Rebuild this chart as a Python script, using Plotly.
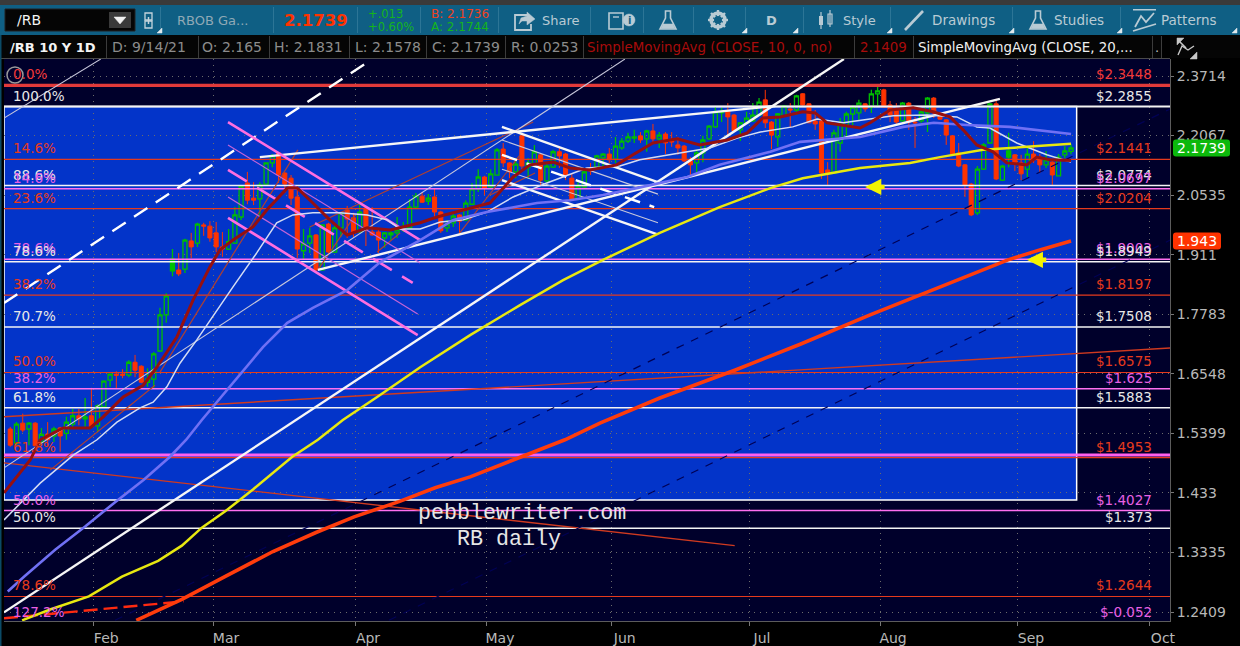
import math

import plotly.graph_objects as go

# daily bars of /RB (bar number 1..171 on the axis)
opens = [1.548, 1.522, 1.559, 1.548, 1.559, 1.524, 1.538, 1.535, 1.550, 1.540,
         1.557, 1.573, 1.567, 1.573, 1.554, 1.590, 1.642, 1.654, 1.654, 1.652,
         1.678, 1.670, 1.638, 1.644, 1.701, 1.777, 1.874, 1.876, 1.878, 1.943,
         1.938, 1.981, 1.978, 1.962, 1.929, 1.924, 1.938, 2.000, 2.084, 2.046,
         2.044, 2.081, 2.135, 2.161, 2.109, 2.096, 2.049, 1.920, 1.938, 1.957,
         1.876, 1.983, 1.917, 1.974, 2.017, 1.998, 1.964, 2.022, 1.964, 1.964,
         1.950, 1.957, 1.962, 1.969, 1.974, 2.024, 2.051, 2.039, 2.049, 2.012,
         1.974, 1.986, 2.005, 1.993, 2.031, 2.069, 2.099, 2.074, 2.104, 2.171,
         2.135, 2.112, 2.206, 2.124, 2.132, 2.156, 2.089, 2.124, 2.164, 2.158,
         2.096, 2.044, 2.074, 2.122, 2.124, 2.148, 2.158, 2.145, 2.174, 2.192,
         2.200, 2.206, 2.198, 2.219, 2.198, 2.211, 2.192, 2.182, 2.179, 2.140,
         2.135, 2.161, 2.198, 2.230, 2.268, 2.273, 2.262, 2.222, 2.241, 2.246,
         2.262, 2.304, 2.243, 2.203, 2.260, 2.279, 2.276, 2.321, 2.293, 2.246,
         2.246, 2.117, 2.109, 2.187, 2.235, 2.265, 2.268, 2.293, 2.284, 2.321,
         2.332, 2.290, 2.279, 2.246, 2.295, 2.243, 2.246, 2.268, 2.309, 2.260,
         2.249, 2.206, 2.161, 2.130, 2.081, 2.010, 2.119, 2.187, 2.293, 2.091,
         2.150, 2.156, 2.135, 2.119, 2.158, 2.150, 2.130, 2.137, 2.102, 2.156,
         2.165]
highs = [1.552, 1.561, 1.577, 1.561, 1.561, 1.550, 1.561, 1.552, 1.552, 1.571,
         1.586, 1.586, 1.607, 1.627, 1.595, 1.642, 1.656, 1.660, 1.664, 1.682,
         1.693, 1.672, 1.666, 1.699, 1.792, 1.824, 1.924, 1.915, 1.948, 1.962,
         1.986, 1.986, 1.990, 1.988, 1.964, 1.971, 2.024, 2.079, 2.112, 2.086,
         2.086, 2.137, 2.158, 2.164, 2.112, 2.104, 2.066, 1.971, 1.974, 1.959,
         1.981, 1.986, 1.981, 2.012, 2.027, 2.010, 2.031, 2.024, 2.024, 1.974,
         1.964, 1.969, 2.000, 1.988, 2.044, 2.059, 2.061, 2.056, 2.071, 2.015,
         1.993, 2.012, 2.007, 2.041, 2.084, 2.119, 2.102, 2.119, 2.174, 2.187,
         2.137, 2.148, 2.208, 2.148, 2.182, 2.158, 2.137, 2.169, 2.174, 2.161,
         2.109, 2.086, 2.122, 2.135, 2.156, 2.161, 2.174, 2.203, 2.200, 2.214,
         2.222, 2.216, 2.222, 2.238, 2.216, 2.216, 2.216, 2.203, 2.182, 2.150,
         2.169, 2.206, 2.235, 2.284, 2.282, 2.295, 2.265, 2.243, 2.271, 2.295,
         2.309, 2.332, 2.246, 2.268, 2.290, 2.295, 2.318, 2.323, 2.295, 2.276,
         2.249, 2.137, 2.222, 2.254, 2.271, 2.290, 2.304, 2.295, 2.332, 2.343,
         2.335, 2.301, 2.295, 2.298, 2.298, 2.257, 2.276, 2.312, 2.312, 2.271,
         2.251, 2.208, 2.187, 2.132, 2.084, 2.127, 2.187, 2.295, 2.307, 2.130,
         2.214, 2.158, 2.156, 2.174, 2.192, 2.158, 2.166, 2.140, 2.158, 2.179,
         2.1831]
lows = [1.515, 1.518, 1.542, 1.518, 1.515, 1.518, 1.515, 1.524, 1.506, 1.528,
        1.552, 1.555, 1.552, 1.550, 1.542, 1.588, 1.629, 1.625, 1.646, 1.648,
        1.648, 1.636, 1.629, 1.627, 1.699, 1.760, 1.862, 1.862, 1.869, 1.903,
        1.929, 1.955, 1.941, 1.917, 1.906, 1.922, 1.936, 1.993, 2.031, 2.029,
        2.000, 2.079, 2.124, 2.084, 2.059, 2.029, 1.903, 1.899, 1.915, 1.874,
        1.874, 1.915, 1.915, 1.952, 1.950, 1.952, 1.962, 1.931, 1.955, 1.915,
        1.927, 1.945, 1.950, 1.964, 1.974, 2.019, 2.034, 2.029, 2.000, 1.962,
        1.964, 1.976, 1.957, 1.990, 2.029, 2.061, 2.054, 2.071, 2.102, 2.124,
        2.096, 2.096, 2.112, 2.096, 2.124, 2.079, 2.084, 2.122, 2.122, 2.091,
        2.039, 2.041, 2.071, 2.104, 2.122, 2.124, 2.135, 2.135, 2.169, 2.187,
        2.187, 2.187, 2.164, 2.187, 2.174, 2.158, 2.177, 2.156, 2.137, 2.104,
        2.112, 2.137, 2.195, 2.227, 2.243, 2.203, 2.216, 2.192, 2.238, 2.243,
        2.260, 2.227, 2.171, 2.177, 2.257, 2.230, 2.262, 2.287, 2.241, 2.222,
        2.094, 2.079, 2.107, 2.164, 2.203, 2.235, 2.249, 2.271, 2.268, 2.284,
        2.282, 2.243, 2.235, 2.243, 2.222, 2.174, 2.241, 2.216, 2.254, 2.249,
        2.182, 2.156, 2.124, 2.049, 2.002, 2.005, 2.117, 2.185, 2.091, 2.089,
        2.124, 2.114, 2.091, 2.099, 2.135, 2.109, 2.122, 2.079, 2.102, 2.148,
        2.1578]
closes = [1.518, 1.557, 1.546, 1.559, 1.517, 1.538, 1.528, 1.548, 1.535, 1.561,
          1.573, 1.567, 1.571, 1.552, 1.592, 1.640, 1.654, 1.652, 1.652, 1.678,
          1.662, 1.638, 1.644, 1.695, 1.777, 1.818, 1.901, 1.867, 1.945, 1.929,
          1.983, 1.978, 1.950, 1.929, 1.924, 1.941, 2.005, 2.076, 2.041, 2.041,
          2.079, 2.135, 2.153, 2.104, 2.081, 2.046, 1.924, 1.936, 1.955, 1.876,
          1.981, 1.917, 1.974, 2.010, 1.995, 1.964, 2.012, 1.969, 1.957, 1.945,
          1.962, 1.962, 1.969, 1.971, 2.024, 2.051, 2.036, 2.046, 2.012, 1.967,
          1.983, 2.002, 1.990, 2.034, 2.069, 2.099, 2.071, 2.107, 2.169, 2.135,
          2.112, 2.132, 2.127, 2.135, 2.164, 2.091, 2.127, 2.164, 2.153, 2.104,
          2.041, 2.076, 2.112, 2.114, 2.153, 2.158, 2.143, 2.179, 2.192, 2.203,
          2.203, 2.195, 2.219, 2.198, 2.208, 2.187, 2.190, 2.174, 2.140, 2.130,
          2.161, 2.195, 2.232, 2.271, 2.271, 2.257, 2.219, 2.241, 2.254, 2.262,
          2.298, 2.241, 2.208, 2.265, 2.287, 2.276, 2.315, 2.290, 2.241, 2.238,
          2.109, 2.107, 2.214, 2.238, 2.265, 2.284, 2.295, 2.279, 2.321, 2.329,
          2.284, 2.262, 2.243, 2.295, 2.243, 2.241, 2.271, 2.309, 2.268, 2.251,
          2.208, 2.158, 2.127, 2.079, 2.005, 2.119, 2.182, 2.293, 2.094, 2.127,
          2.166, 2.135, 2.107, 2.158, 2.143, 2.130, 2.143, 2.104, 2.150, 2.166,
          2.1739]
solid_up_bars = [27, 161]

# moving averages: bar number, value
sma10_x = [0, 4.2, 5.8, 9.5, 13.8, 15.9, 19.1, 22.3, 24.5, 27.7, 30.3, 33, 34.6, 36.7,
           39.9, 42.1, 45.4, 47, 49.5, 52.2, 55, 58.2, 61.9, 66.7, 69.4, 73.6, 77.9,
           81.6, 84.3, 88, 90.7, 93.9, 98.2, 100.8, 104, 107.9, 111.5, 115.9, 119.1,
           121.6, 124.4, 128, 130, 131.9, 137.2, 138.8, 142, 145.7, 148.9, 151.6,
           153.7, 155.9, 158.5, 160.7, 163.9, 165.5, 167.6, 171]
sma10_y = [1.433, 1.491, 1.528, 1.550, 1.550, 1.571, 1.609, 1.632, 1.668, 1.730, 1.809,
           1.883, 1.922, 1.945, 1.976, 2.017, 2.071, 2.071, 2.034, 1.993, 1.957, 1.974,
           1.969, 1.986, 2.000, 2.017, 2.034, 2.099, 2.130, 2.137, 2.122, 2.117, 2.130,
           2.156, 2.187, 2.198, 2.182, 2.195, 2.214, 2.254, 2.257, 2.271, 2.268, 2.241,
           2.227, 2.241, 2.276, 2.282, 2.271, 2.257, 2.222, 2.182, 2.164, 2.135, 2.130,
           2.150, 2.143, 2.141]
sma20_x = [0, 3.2, 5.8, 11.1, 14.9, 18.1, 21.8, 23.9, 26.1, 28.2, 30.9, 36.7, 40.5, 43.7,
           46.3, 49.5, 53.8, 58.2, 61.4, 63.5, 66.7, 69.9, 73.6, 77.4, 81.6, 87, 93.4,
           98.7, 101.9, 108.3, 113.1, 117.5, 121.2, 126.4, 130.3, 134.5, 138.8, 142.5,
           147.9, 152.7, 155.9, 158, 162.3, 167.1, 171]
sma20_y = [1.387, 1.421, 1.450, 1.500, 1.528, 1.561, 1.588, 1.599, 1.629, 1.676, 1.724,
           1.838, 1.915, 1.986, 2.005, 2.010, 2.010, 2.005, 1.993, 1.971, 1.971, 1.988,
           1.993, 2.012, 2.049, 2.084, 2.122, 2.127, 2.143, 2.161, 2.174, 2.200, 2.216,
           2.230, 2.251, 2.241, 2.251, 2.260, 2.262, 2.257, 2.230, 2.227, 2.187, 2.156,
           2.137]
sma50_x = [0.6, 3.2, 8.2, 13, 17.8, 22.4, 26.6, 29.2, 31.7, 36.7, 41.5, 45.4, 49.5, 55,
           60.3, 66.7, 72, 77.4, 85.4, 90.7, 96, 101.4, 109.5, 114.7, 122.8, 127.6,
           137.2, 144.1, 149, 154.3, 161.2, 171]
sma50_y = [1.272, 1.295, 1.338, 1.376, 1.417, 1.456, 1.497, 1.528, 1.565, 1.636, 1.709,
           1.760, 1.792, 1.831, 1.894, 1.945, 1.993, 2.012, 2.034, 2.041, 2.054, 2.071,
           2.099, 2.130, 2.164, 2.190, 2.203, 2.230, 2.241, 2.235, 2.230, 2.211]
sma100_x = [2.9, 7.5, 13.6, 18.9, 24.7, 28.5, 31.7, 35.4, 39.9, 43.7, 46.2, 50.3, 54.3,
            59.8, 66.7, 74.7, 82.7, 89.6, 96, 105.1, 114.7, 122.8, 128, 137.2, 145.2,
            150, 156.9, 163.9, 171]
sma100_y = [1.2285, 1.245, 1.2645, 1.295, 1.320, 1.3445, 1.374, 1.401, 1.439, 1.473,
            1.497, 1.528, 1.565, 1.609, 1.668, 1.734, 1.798, 1.853, 1.899, 1.962, 2.024,
            2.071, 2.096, 2.122, 2.135, 2.150, 2.169, 2.177, 2.185]
sma200_x = [21.2, 28.5, 35.4, 43.1, 50, 56.1, 63.3, 69.1, 74.7, 83, 89.9, 95.5, 105.1,
            117.1, 127.6, 138.8, 148.4, 152.7, 160.9, 166, 171]
sma200_y = [1.2285, 1.260, 1.295, 1.335, 1.366, 1.392, 1.418, 1.442, 1.461, 1.497, 1.528,
            1.559, 1.607, 1.662, 1.715, 1.777, 1.829, 1.853, 1.899, 1.922, 1.943]

# horizontal fibonacci levels
fib_prices = [2.3448, 2.2855, 2.1441, 2.0774, 2.0697, 2.0204, 1.9003, 1.8949, 1.8197,
              1.7508, 1.6575, 1.625, 1.5883, 1.5001, 1.4953, 1.4027, 1.373, 1.2644]
fib_left = ["0.0%", "100.0%", "14.6%", "88.6%", "14.6%", "23.6%", "78.6%", "78.6%", "38.2%",
            "70.7%", "50.0%", "38.2%", "61.8%", "", "61.8%", "50.0%", "50.0%", "78.6%"]
fib_right = ["$2.3448", "$2.2855", "$2.1441", "$2.0774", "$2.0697", "$2.0204", "$1.9003",
             "$1.8949", "$1.8197", "$1.7508", "$1.6575", "$1.625", "$1.5883", "", "$1.4953",
             "$1.4027", "$1.373", "$1.2644"]
fib_kinds = ["top", "white2", "red", "white", "pink", "red", "pink", "white", "red",
             "white", "red", "pink", "white", "pink3", "red", "pink", "white", "red"]

# drawn trend lines: bar, price, bar, price
white_thick = [(0, 1.2404, 134.6, 2.4204), (50.3, 1.876, 159.6, 2.307), (41, 2.150, 123.6, 2.287),
               (79.8, 2.230, 105.1, 2.084), (79.8, 2.091, 104.6, 1.959)]
white_thin = [(0, 2.254, 15.5, 2.4204), (0, 1.477, 99.5, 2.4204),
              (79.8, 2.195, 104.8, 2.056), (79.8, 2.119, 104.8, 1.986)]
white_dashed = [(0, 1.8025, 59, 2.4204), (79.8, 2.156, 104.2, 2.024)]
pink_thick = [(35.9, 2.243, 66.7, 1.945), (35.9, 1.998, 66.3, 1.734)]
pink_thin = [(35.9, 2.182, 66.7, 1.892), (35.9, 2.049, 66.3, 1.7787)]
pink_dashed = [(35.9, 2.117, 65.5, 1.847)]
brown_thin = [(7.4, 1.473, 24.2, 1.632), (25, 1.658, 47.1, 2.169), (49, 1.976, 84.8, 2.243),
              (72.8, 1.957, 82.7, 2.156), (77.9, 2.054, 85.1, 2.109), (59.8, 1.917, 63.5, 1.962),
              (50.3, 1.876, 56.3, 2.005)]
red_thin = [(0, 1.571, 186.9, 1.7071), (0, 1.486, 117.1, 1.3445)]
red_dashed = [(0, 1.2315, 28.8, 1.257)]
navy_dashed = [(17.8, 1.2285, 186.9, 2.279), (61.7, 1.2285, 186.9, 1.945)]

# axes
month_bars = [14.3, 33.5, 56.25, 77.4, 97.4, 119.4, 140.4, 162.5, 183.65]
month_labels = ["Feb", "Mar", "Apr", "May", "Jun", "Jul", "Aug", "Sep", "Oct"]
price_ticks = [2.3714, 2.2067, 2.0535, 1.911, 1.7783, 1.6548, 1.5399, 1.433, 1.3335, 1.2409]
price_labels = ["2.3714", "2.2067", "2.0535", "1.911", "1.7783", "1.6548", "1.5399", "1.433",
                "1.3335", "1.2409"]

FONT = "DejaVu Sans"
BLUE = "#0334c9"
NAVY = "#00002b"
TEAL = "#0f5f84"
GREEN = "#00bf00"
ORANGE = "#ff3300"
RED = "#e63a1c"
PINK = "#e860e4"
GREY = "#b8b8b8"
BAR_COLOR = "#b9cbd4"

# plot area in the window, in pixels
W, H = 1240, 646
LEFT, RIGHT, TOP, BOTTOM = 4, 1170, 59, 621
X_RANGE = [0, 186.86]
Y_RANGE = [0.08902, 0.38393]


def px(x):
    return (x - LEFT) / (RIGHT - LEFT)


def py(y):
    return (BOTTOM - y) / (BOTTOM - TOP)


def price_py(price):
    return (math.log10(price) - Y_RANGE[0]) / (Y_RANGE[1] - Y_RANGE[0])


def path(points, close=False):
    d = "M" + " L".join(f"{px(x):.5f},{py(y):.5f}" for x, y in points)
    return d + (" Z" if close else "")


fig = go.Figure()
shapes = []
notes = []


def chrome_rect(x0, y0, x1, y1, fill, line=None, width=0):
    shapes.append(dict(type="rect", xref="paper", yref="paper", layer="above",
                       x0=px(x0), x1=px(x1), y0=py(y0), y1=py(y1), fillcolor=fill,
                       line=dict(color=line or fill, width=width)))


def chrome_path(points, color, width=1.5, fill=None, close=False):
    shapes.append(dict(type="path", xref="paper", yref="paper", layer="above",
                       path=path(points, close), fillcolor=fill or "rgba(0,0,0,0)",
                       line=dict(color=color, width=width)))


def chrome_circle(x0, y0, x1, y1, color, width=1.5, fill=None):
    shapes.append(dict(type="circle", xref="paper", yref="paper", layer="above",
                       x0=px(x0), x1=px(x1), y0=py(y0), y1=py(y1),
                       fillcolor=fill or "rgba(0,0,0,0)", line=dict(color=color, width=width)))


def text(x, y, s, color, size=13, anchor="left", bold=False, family=FONT):
    notes.append(dict(xref="paper", yref="paper", x=px(x), y=py(y), text=f"<b>{s}</b>" if bold else s,
                      showarrow=False, xanchor=anchor, yanchor="middle", borderpad=0,
                      font=dict(family=family, size=size, color=color)))


def segments(lines, color, width, dash="solid"):
    for x0, y0, x1, y1 in lines:
        fig.add_trace(go.Scatter(x=[x0, x1], y=[y0, y1], mode="lines", hoverinfo="skip",
                                 line=dict(color=color, width=width, dash=dash)))


# candles, hollow when up and solid when down
bars = list(range(1, len(opens) + 1))
hollow = [i for i, b in enumerate(bars) if b not in solid_up_bars]
solid = [i for i, b in enumerate(bars) if b in solid_up_bars]


def candles(idx, up_fill):
    return go.Candlestick(x=[bars[i] for i in idx], open=[opens[i] for i in idx],
                          high=[highs[i] for i in idx], low=[lows[i] for i in idx],
                          close=[closes[i] for i in idx], hoverinfo="skip", whiskerwidth=0,
                          increasing=dict(line=dict(color=GREEN, width=1.3), fillcolor=up_fill),
                          decreasing=dict(line=dict(color=ORANGE, width=1), fillcolor=ORANGE))


fig.add_trace(candles(hollow, "rgba(0,0,0,0)"))
fig.add_trace(candles(solid, GREEN))

# fib lines and their labels on both sides
fib_style = {"top": ("#e23a3a", 3.2, "#f03838"), "white2": ("#f4f4f4", 2, "#e8e8e8"),
             "white": ("#f4f4f4", 1.5, "#e8e8e8"), "red": (RED, 1.1, RED),
             "pink": ("#ff70f0", 1.5, PINK), "pink3": ("#ff60ee", 3, PINK)}
for price, left, right, kind in zip(fib_prices, fib_left, fib_right, fib_kinds):
    color, width, label = fib_style[kind]
    fig.add_trace(go.Scatter(x=X_RANGE, y=[price, price], mode="lines", hoverinfo="skip",
                             line=dict(color=color, width=width)))
    for s, x, anchor in ((left, 12, "left"), (right, 1153, "right")):
        if s:
            notes.append(dict(xref="paper", yref="y", x=px(x), y=math.log10(price), yshift=11, text=s,
                              showarrow=False, xanchor=anchor, yanchor="middle", borderpad=0,
                              font=dict(family=FONT, size=13.5, color=label)))

# level below the visible range, so only its labels show
text(12, 612, "127.2%", PINK, 13.5)
text(1153, 612, "$-0.052", PINK, 13.5, anchor="right")
chrome_circle(7, 67, 23, 83, "#9a9a9a", 1.5)

segments(red_thin, "#d03a20", 1.4)
segments(brown_thin, "#b04030", 1.2)
segments(navy_dashed, "#000055", 1.2, "8px,8px")
segments(red_dashed, "#ff2a10", 2.4, "14px,6px")
segments(white_thin, "#c8c8dc", 1.1)
segments(white_thick, "#f6f6f6", 2.4)
segments(white_dashed, "#ffffff", 2.4, "16px,10px")
segments(pink_thin, "#c464d8", 1.2)
segments(pink_thick, "#ff6ee0", 2.6)
segments(pink_dashed, "#ff6ee0", 2.6, "22px,12px")

for xs, ys, color, width in ((sma20_x, sma20_y, "#d4dcf4", 1.5),
                             (sma50_x, sma50_y, "#7070f4", 2.6),
                             (sma100_x, sma100_y, "#e8e810", 2.5),
                             (sma200_x, sma200_y, "#ff3c0c", 3.6),
                             (sma10_x, sma10_y, "#961010", 3)):
    fig.add_trace(go.Scatter(x=xs, y=ys, mode="lines", hoverinfo="skip",
                             line=dict(color=color, width=width)))

# the blue box of the fib retracement
shapes.append(dict(type="rect", xref="x", yref="y", layer="below", x0=X_RANGE[0], x1=171.9,
                   y0=1.4206, y1=2.2855, fillcolor=BLUE, line=dict(color="#ffffff", width=1.5)))

# yellow arrows
for bar, price in ((138, 2.074), (163.9, 1.899)):
    notes.append(dict(xref="x", yref="y", x=bar, y=math.log10(price), text="", showarrow=True,
                      ax=21, ay=0, arrowhead=2, arrowsize=0.72, arrowwidth=4.5, arrowcolor="#f4f400"))

# watermark
text(522, 513, "pebblewriter.com", "#e6e6e6", 21.7, anchor="center", family="Liberation Mono")
text(509, 539, "RB daily", "#e6e6e6", 21.7, anchor="center", family="Liberation Mono")


# price tags over the axis
def price_tag(price, label, color, right):
    yc = price_py(price)
    h = 8.5 / (BOTTOM - TOP)
    x0, x1 = px(1173), px(right)
    r = 3 / (RIGHT - LEFT)
    ry = 3 / (BOTTOM - TOP)
    d = (f"M{x0 + r},{yc + h} L{x1 - r},{yc + h} Q{x1},{yc + h} {x1},{yc + h - ry} "
         f"L{x1},{yc - h + ry} Q{x1},{yc - h} {x1 - r},{yc - h} L{x0 + r},{yc - h} "
         f"Q{x0},{yc - h} {x0},{yc - h + ry} L{x0},{yc + h - ry} Q{x0},{yc + h} {x0 + r},{yc + h} Z")
    shapes.append(dict(type="path", xref="paper", yref="paper", layer="above", path=d,
                       fillcolor=color, line=dict(color=color, width=0)))
    notes.append(dict(xref="paper", yref="paper", x=px((1173 + right) / 2), y=yc, text=label,
                      showarrow=False, xanchor="center", yanchor="middle", borderpad=0,
                      font=dict(family=FONT, size=14, color="#ffffff")))


price_tag(2.1739, "2.1739", "#0cb80c", 1230)
price_tag(1.943, "1.943", ORANGE, 1221)

# window frame: toolbar band and study header
chrome_rect(0, 0, W, 5, "#3a3a3a")
chrome_rect(0, 5, W, 35, TEAL)
chrome_rect(0, 35, W, 58, "#050505")
chrome_rect(0, 58, RIGHT, 59, "#4a4a4a")
chrome_rect(0, 35, 1.5, H, "#0b4a66")
chrome_rect(1161, 35, 1170, 58, "#000000")

for x in (160, 273, 357, 420, 498, 590, 643, 693, 745, 803, 890, 1012, 1120):
    chrome_rect(x, 7, x + 1, 33, "#2c7596")
for x in (106, 198, 269, 349, 426, 505, 583, 854, 913, 1152, 1161):
    chrome_rect(x, 36, x + 1, 58, "#3c3c3c")
chrome_rect(1170, 59, 1171, 621, "#5c5c5c")

# symbol box
chrome_rect(5, 9, 135, 31, "#050505", "#222222", 1)
chrome_rect(109, 12, 131, 28, "#3a3a3a")
chrome_path([(114, 17), (126, 17), (120, 24)], "#f0f0f0", 0.5, "#f0f0f0", True)
text(16, 20, "/RB", "#f4f4f4", 14)
chrome_rect(145, 13, 152, 20, TEAL, "#c4d4dc", 1.3)
chrome_rect(145, 21, 152, 28, TEAL, "#c4d4dc", 1.3)
chrome_path([(148.5, 17), (148.5, 24)], "#c4d4dc", 1.5)

text(176, 20, "RBOB Ga...", "#8fa9b6", 13)
text(283, 20, "2.1739", ORANGE, 16.5, bold=True)
text(367, 14, "+.013", "#15b51c", 11.5)
text(367, 27, "+0.60%", "#15b51c", 11.5)
text(430, 14, "B: 2.1736", "#f0421e", 12)
text(430, 27, "A: 2.1744", "#15b51c", 12)

# share icon
chrome_path([(527, 15), (515, 15), (515, 30), (531, 30), (531, 24)], BAR_COLOR, 1.8)
chrome_path([(519, 24), (521, 18), (527, 16), (527, 12), (535, 19), (527, 25), (527, 21), (522, 21)],
            BAR_COLOR, 0.5, BAR_COLOR, True)
text(541, 20, "Share", BAR_COLOR, 13)

# notebook icon
chrome_rect(609, 13, 623, 29, TEAL, BAR_COLOR, 1.6)
chrome_path([(613, 17), (619, 17)], BAR_COLOR, 1.4)
chrome_circle(623, 14, 635, 26, BAR_COLOR, 0.5, BAR_COLOR)
text(629, 20, "i", TEAL, 10, anchor="center", bold=True)

# flasks
for x0 in (668, 1038):
    chrome_path([(x0 - 2.5, 11), (x0 + 2.5, 11), (x0 + 2.5, 18), (x0 + 8, 29), (x0 - 8, 29), (x0 - 2.5, 18)],
                BAR_COLOR, 1.6, None, True)
    chrome_path([(x0 - 5, 24), (x0 + 5, 24), (x0 + 7, 28.5), (x0 - 7, 28.5)], BAR_COLOR, 0.5, BAR_COLOR, True)

# gear
chrome_circle(711, 13, 725, 27, BAR_COLOR, 3.5)
for a, b in (((718, 10), (718, 30)), ((708, 20), (728, 20)), ((711, 13), (725, 27)), ((725, 13), (711, 27))):
    chrome_path([a, b], BAR_COLOR, 2.4)
chrome_circle(714, 16, 722, 24, TEAL, 0, TEAL)

text(771, 20, "D", BAR_COLOR, 13, anchor="center", bold=True)

# style icon: two small candles
chrome_rect(819, 16, 823, 25, BAR_COLOR)
chrome_path([(821, 12), (821, 29)], BAR_COLOR, 1.2)
chrome_rect(828, 14, 832, 24, TEAL, BAR_COLOR, 1.2)
chrome_path([(830, 10), (830, 27)], BAR_COLOR, 1.2)
text(842, 20, "Style", BAR_COLOR, 13)

chrome_path([(905, 30), (923, 11)], BAR_COLOR, 2.6)
text(931, 20, "Drawings", BAR_COLOR, 13.5)
text(1053, 20, "Studies", BAR_COLOR, 13.5)

# patterns icon
chrome_rect(1133, 9, 1156, 10.5, BAR_COLOR)
chrome_path([(1135, 27), (1141, 16), (1146, 22), (1154, 13)], BAR_COLOR, 1.8)
chrome_path([(1133, 31), (1156, 24)], BAR_COLOR, 1.8)
text(1160, 20, "Patterns", BAR_COLOR, 13.5)

# small corner marks of the toolbar buttons
for x in (157, 803 - 10, 887, 1009, 1117, 1232, 698 + 44):
    chrome_path([(x, 33), (x + 5, 33), (x + 5, 28)], "#dfe8ec", 0.5, "#dfe8ec", True)

# study header row
text(9, 47, "/RB 10 Y 1D", "#f4f4f4", 13, bold=True)
for x, s in ((111, "D: 9/14/21"), (201, "O: 2.165"), (273, "H: 2.1831"), (354, "L: 2.1578"),
             (431, "C: 2.1739"), (510, "R: 0.0253")):
    text(x, 47, s, "#8c8c8c", 14)
text(586, 47, "SimpleMovingAvg (CLOSE, 10, 0, no)", "#a80c0c", 13.4)
text(859, 47, "2.1409", "#a80c0c", 13.4)
text(917, 47, "SimpleMovingAvg (CLOSE, 20,...", "#f0f0f0", 13.4)
text(1154, 47, ".", "#c0c0c0", 13)

# expand icon right of the header
chrome_path([(1178, 40), (1186, 48)], "#c8c8c8", 1.6)
chrome_path([(1177, 38), (1184, 38), (1177, 45)], "#c8c8c8", 0.5, "#c8c8c8", True)
chrome_path([(1178, 55), (1182, 46), (1188, 50), (1194, 46)], "#c8c8c8", 1.4)
chrome_path([(1197, 59), (1190, 59), (1197, 52)], "#c8c8c8", 0.5, "#c8c8c8", True)

grid = dict(automargin=False, showgrid=True, griddash="1px,5px", gridcolor="#6c6c6c", gridwidth=1,
            zeroline=False, showline=True, linecolor="#5c5c5c", linewidth=1, ticks="outside",
            tickcolor="#777777")

fig.update_layout(
    width=W, height=H, margin=dict(l=LEFT, r=W - RIGHT, t=TOP, b=H - BOTTOM, pad=0),
    paper_bgcolor="#000000", plot_bgcolor=NAVY, showlegend=False, hovermode=False,
    boxgap=0.35, boxgroupgap=0, shapes=shapes, annotations=notes,
    xaxis=dict(range=X_RANGE, tickmode="array", tickvals=month_bars, ticktext=month_labels,
               ticklen=4, ticklabelshift=13, rangeslider=dict(visible=False),
               tickfont=dict(family=FONT, size=14, color=GREY), **grid),
    yaxis=dict(type="log", range=Y_RANGE, side="right", tickmode="array", tickvals=price_ticks,
               ticktext=price_labels, ticklen=3, tickfont=dict(family=FONT, size=14, color=GREY), **grid),
)

fig.write_html("out.html", config=dict(displayModeBar=False),
               post_script="document.body.style.margin='0';document.body.style.background='#000';")
